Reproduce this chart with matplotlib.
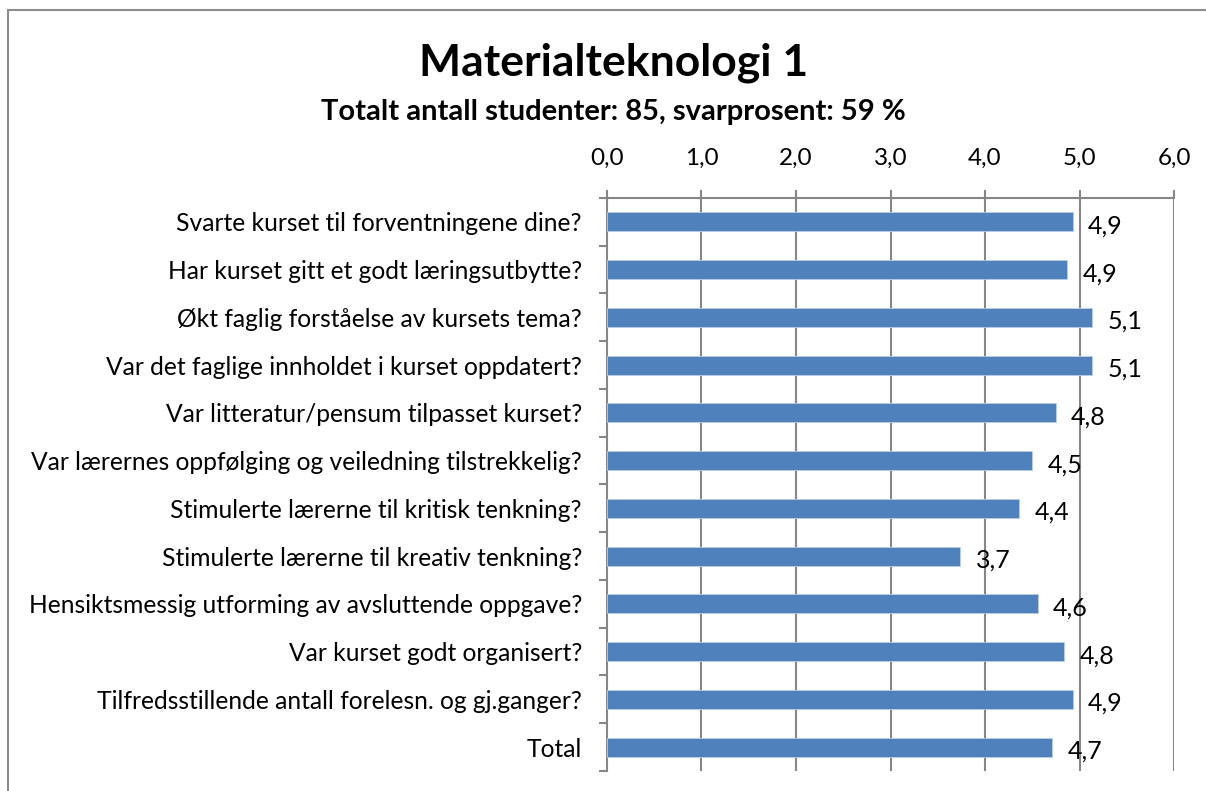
import numpy as np
import matplotlib
matplotlib.use("Agg")
import matplotlib.pyplot as plt
from matplotlib.patches import Rectangle

plt.rcParams['font.family'] = ['Lato', 'DejaVu Sans']

# Data
questions = [
    "Svarte kurset til forventningene dine?",
    "Har kurset gitt et godt læringsutbytte?",
    "Økt faglig forståelse av kursets tema?",
    "Var det faglige innholdet i kurset oppdatert?",
    "Var litteratur/pensum tilpasset kurset?",
    "Var lærernes oppfølging og veiledning tilstrekkelig?",
    "Stimulerte lærerne til kritisk tenkning?",
    "Stimulerte lærerne til kreativ tenkning?",
    "Hensiktsmessig utforming av avsluttende oppgave?",
    "Var kurset godt organisert?",
    "Tilfredsstillende antall forelesn. og gj.ganger?",
    "Total",
]
scores = [4.93, 4.87, 5.13, 5.13, 4.75, 4.50, 4.36, 3.74, 4.56, 4.84, 4.93, 4.71]
xticks = [0, 1, 2, 3, 4, 5, 6]

title = "Materialteknologi 1"
subtitle = "Totalt antall studenter: 85, svarprosent: 59 %"

bar_color = "#4F81BD"
grid_color = "#868686"

fig = plt.figure(figsize=(12.06, 7.91), dpi=100)
ax = fig.add_axes([0.5033, 0.0253, 0.4702, 0.7244])

# outer chart frame (cut off at right and bottom like the screenshot)
fig.patches.append(Rectangle((8 / 1206, -0.1), 1.2, 1 - 10 / 791 + 0.1,
                             transform=fig.transFigure, fill=False,
                             edgecolor="#8C8C8C", linewidth=1.5))

y = np.arange(len(questions))
ax.barh(y, scores, height=0.4, color=bar_color, edgecolor="#B9CDE5",
        linewidth=0.6, zorder=3)

for yi, v in zip(y, scores):
    ax.annotate(f"{v:.1f}".replace(".", ","), xy=(v, yi), xytext=(11, -3),
                textcoords="offset points", ha="left", va="center",
                fontsize=18, color="black")

ax.set_xlim(0, 6)
ax.set_ylim(len(questions) - 0.5, -0.5)

ax.xaxis.tick_top()
ax.set_xticks(xticks)
ax.set_xticklabels([f"{t:.1f}".replace(".", ",") for t in xticks], fontsize=17.5)
ax.tick_params(axis="x", direction="out", length=6, width=1.5,
               color=grid_color, pad=15)
for t in xticks[1:]:
    ax.axvline(t, color=grid_color, linewidth=1.5, zorder=1)

ax.set_yticks(np.arange(len(questions) + 1) - 0.5)
ax.set_yticklabels([])
ax.tick_params(axis="y", which="major", direction="out", length=6,
               width=1.5, color=grid_color)
ax.set_yticks(y, minor=True)
ax.set_yticklabels(questions, minor=True, fontsize=17.7)
ax.tick_params(axis="y", which="minor", length=0, pad=18)

for s in ["right", "bottom"]:
    ax.spines[s].set_visible(False)
for s in ["top", "left"]:
    ax.spines[s].set_color(grid_color)
    ax.spines[s].set_linewidth(1.5)

fig.text(0.509, 0.921, title, ha="center", va="center", fontsize=32,
         fontweight="bold")
fig.text(0.509, 0.859, subtitle, ha="center", va="center", fontsize=21,
         fontweight="bold")

fig.savefig("out.png", dpi=100)
